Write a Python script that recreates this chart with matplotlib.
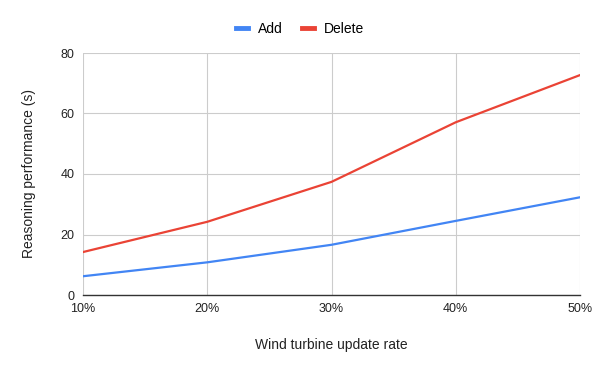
import matplotlib
matplotlib.use("Agg")
import matplotlib.pyplot as plt

plt.rcParams['font.family'] = ['Liberation Sans', 'DejaVu Sans']

# data
rates = ['10%', '20%', '30%', '40%', '50%']
add_times = [6.2, 10.8, 16.6, 24.5, 32.3]
delete_times = [14.2, 24.2, 37.4, 57.1, 72.7]

fig = plt.figure(figsize=(6, 3.71), dpi=100)
ax = fig.add_axes([83 / 600, 1 - 295 / 371, 497 / 600, 242 / 371])

x = list(range(len(rates)))
ax.plot(x, add_times, color='#4285F4', lw=1.6, label='Add')
ax.plot(x, delete_times, color='#EA4335', lw=1.6, label='Delete')

ax.set_xlim(0, len(rates) - 1)
ax.set_ylim(0, 80)
ax.set_xticks(x)
ax.set_xticklabels(rates)
ax.set_yticks([0, 20, 40, 60, 80])

ax.grid(True, color='#cccccc', lw=0.8)
ax.set_axisbelow(True)
for side in ['top', 'right', 'left']:
    ax.spines[side].set_visible(False)
ax.spines['bottom'].set_color('#333333')
ax.spines['bottom'].set_linewidth(1)
ax.tick_params(length=0, labelsize=9, colors='#222222', pad=6)

ax.set_xlabel('Wind turbine update rate', fontsize=10, color='#222222', labelpad=16)
ax.set_ylabel('Reasoning performance (s)', fontsize=10, color='#222222', labelpad=18)

fig.legend(loc='upper center', bbox_to_anchor=(0.5, 0.975), ncol=2, frameon=False,
           fontsize=10, handlelength=0.85, handletextpad=0.7, columnspacing=1.4)
for h in fig.legends[0].legend_handles:
    h.set_linewidth(3.5)

fig.savefig('out.png', dpi=100)
